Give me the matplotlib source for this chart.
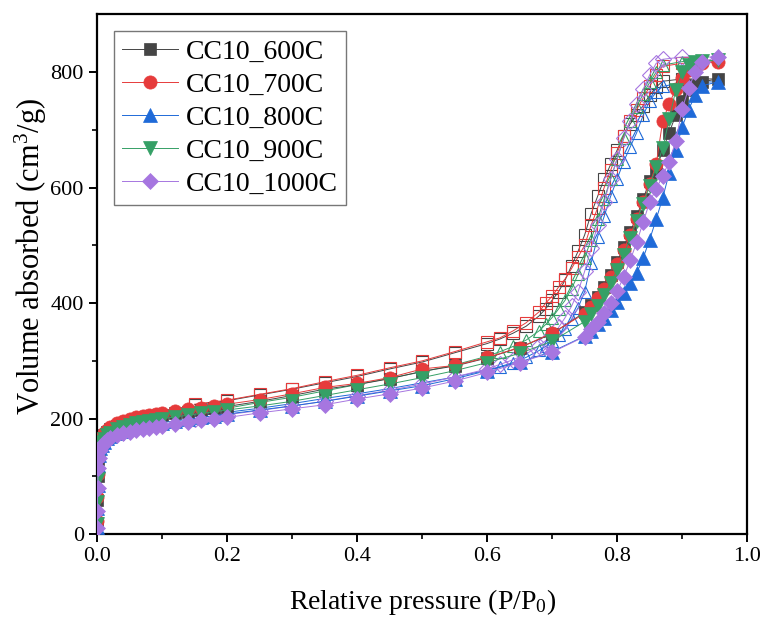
import matplotlib
matplotlib.use('Agg')
import matplotlib.pyplot as plt

plt.rcParams['font.family'] = ['Liberation Serif', 'DejaVu Serif']
plt.rcParams['mathtext.fontset'] = 'custom'
plt.rcParams['mathtext.rm'] = 'Liberation Serif'
plt.rcParams['mathtext.it'] = 'Liberation Serif:italic'

# series names / styles
labels = ['CC10_600C', 'CC10_700C', 'CC10_800C', 'CC10_900C', 'CC10_1000C']
colors = ['#454545', '#e63b3b', '#1f6ad8', '#35a066', '#a676e0']
markers = ['s', 'o', '^', 'v', 'D']
open_markers = ['s', 's', '^', '^', 'D']
ms_fill = [9, 9.5, 10, 10, 8.5]

# adsorption branch (P/P0)
ads_p = [0.0002, 0.0005, 0.001, 0.002, 0.003, 0.005, 0.007, 0.01, 0.015, 0.02,
         0.03, 0.04, 0.05, 0.06, 0.07, 0.08, 0.09, 0.10, 0.12, 0.14, 0.16, 0.18, 0.20,
         0.25, 0.30, 0.35, 0.40, 0.45, 0.50, 0.55, 0.60, 0.65, 0.70,
         0.75, 0.76, 0.77, 0.78, 0.79, 0.80, 0.81, 0.82, 0.83, 0.84,
         0.85, 0.86, 0.87, 0.88, 0.89, 0.90, 0.91, 0.92, 0.93, 0.955]

ads_600 = [20, 60, 100, 130, 145, 157, 164, 171, 177, 182,
           188, 192, 195, 198, 200, 202, 204, 206, 209, 212, 215, 218, 221,
           230, 240, 251, 259, 269, 282, 291, 305, 323, 347,
           384, 396, 410, 428, 448, 472, 497, 523, 550, 580,
           612, 630, 665, 695, 725, 750, 768, 777, 783, 788]
ads_700 = [22, 64, 105, 135, 150, 162, 169, 175, 181, 186,
           192, 196, 199, 202, 204, 206, 208, 210, 213, 216, 219, 222, 225,
           233, 243, 254, 261, 271, 286, 292, 306, 323, 348,
           382, 394, 408, 425, 445, 468, 492, 518, 545, 575,
           606, 640, 715, 745, 770, 790, 803, 810, 815, 818]
ads_800 = [12, 45, 85, 120, 137, 149, 155, 160, 166, 170,
           175, 179, 182, 185, 187, 189, 191, 193, 196, 199, 202, 205, 208,
           215, 222, 230, 239, 248, 257, 269, 283, 298, 316,
           343, 352, 363, 375, 388, 402, 418, 434, 452, 478,
           510, 545, 582, 625, 665, 705, 735, 760, 776, 783]
ads_900 = [18, 55, 95, 125, 140, 152, 159, 165, 171, 176,
           182, 186, 189, 192, 194, 196, 198, 200, 203, 206, 209, 212, 215,
           222, 230, 240, 250, 260, 271, 283, 297, 313, 334,
           368, 381, 395, 414, 435, 458, 484, 512, 542, 572,
           603, 635, 668, 718, 768, 800, 812, 817, 819, 820]
ads_1000 = [10, 40, 80, 115, 132, 145, 152, 157, 163, 167,
            172, 175, 177, 180, 182, 184, 186, 188, 191, 194, 197, 199, 202,
            210, 217, 224, 234, 243, 253, 265, 280, 297, 315,
            342, 355, 368, 383, 400, 421, 445, 474, 505, 540,
            575, 598, 620, 645, 680, 736, 772, 800, 817, 826]

# desorption branch (P/P0)
des_p = [0.90, 0.87,
         0.86, 0.85, 0.84, 0.83, 0.82, 0.81, 0.80, 0.79, 0.78, 0.77,
         0.76, 0.75, 0.74, 0.73, 0.72, 0.71, 0.70, 0.69, 0.68,
         0.66, 0.64, 0.62, 0.60,
         0.55, 0.50, 0.45, 0.40, 0.35, 0.30, 0.25, 0.20, 0.15]

des_600 = [788, 784,
           774, 760, 742, 726, 710, 690, 665, 640, 615, 585,
           555, 518, 490, 465, 440, 420, 405, 390, 378,
           360, 348, 338, 330,
           314, 298, 286, 273, 262, 251, 241, 231, 224]
des_700 = [815, 810,
           795, 775, 755, 735, 715, 690, 660, 630, 600, 565,
           535, 500, 480, 460, 442, 428, 412, 400, 385,
           366, 352, 340, 333,
           316, 300, 288, 275, 264, 252, 242, 232, 225]
des_800 = [782, 775,
           765, 750, 725, 695, 670, 645, 615, 585, 550, 515,
           470, 420, 392, 372, 356, 344, 334, 325, 318,
           306, 297, 290, 284,
           272, 262, 252, 243, 235, 226, 218, 211, 204]
des_900 = [818, 812,
           800, 782, 762, 740, 715, 685, 650, 615, 580, 545,
           510, 478, 450, 425, 405, 390, 375, 363, 352,
           336, 325, 316, 308,
           293, 281, 270, 259, 248, 237, 228, 218, 210]
des_1000 = [826, 822,
            815, 795, 770, 745, 715, 685, 650, 615, 575, 535,
            495, 455, 420, 395, 375, 358, 345, 335, 326,
            312, 302, 294, 286,
            272, 260, 249, 240, 230, 222, 214, 207, 200]

ads_all = [ads_600, ads_700, ads_800, ads_900, ads_1000]
des_all = [des_600, des_700, des_800, des_900, des_1000]

fig = plt.figure(figsize=(7.64, 6.19), dpi=100)
ax = fig.add_axes([0.127, 0.137, 0.851, 0.840])

# desorption: open markers, line starts at last adsorption point
for i in range(5):
    xs = [ads_p[-1]] + des_p
    ys = [ads_all[i][-1]] + des_all[i]
    ax.plot(xs, ys, color=colors[i], lw=0.7, marker=open_markers[i],
            ms=8.5, mfc='none', mec=colors[i], mew=0.8,
            markevery=slice(1, None), zorder=2)

# adsorption: filled markers
handles = []
for i in range(5):
    h, = ax.plot(ads_p, ads_all[i], color=colors[i], lw=0.7, marker=markers[i],
                 ms=ms_fill[i], mfc=colors[i], mec=colors[i],
                 mew=0.5, label=labels[i], zorder=3 + i)
    handles.append(h)

ax.set_xlim(0, 1.0)
ax.set_ylim(0, 900)
ax.set_xticks([0.0, 0.2, 0.4, 0.6, 0.8, 1.0])
ax.set_xticks([0.1, 0.3, 0.5, 0.7, 0.9], minor=True)
ax.set_yticks([0, 200, 400, 600, 800])
ax.set_yticks([100, 300, 500, 700], minor=True)
ax.tick_params(which='major', direction='out', length=6, width=1.4, labelsize=16,
               top=False, right=False)
ax.tick_params(which='minor', direction='out', length=3.5, width=1.2,
               top=False, right=False)
for s in ax.spines.values():
    s.set_linewidth(1.6)

ax.set_xlabel(r'Relative pressure (P/P$_\mathrm{0}$)', fontsize=20, labelpad=15)
ax.set_ylabel(r'Volume absorbed (cm$^\mathrm{3}$/g)', fontsize=22)
ax.yaxis.set_label_coords(-0.074, 0.535)

leg = ax.legend(handles=handles, loc='upper left', fontsize=20, frameon=True,
                fancybox=False, edgecolor='#555555', handlelength=2.0,
                handletextpad=0.3, labelspacing=0.27, borderpad=0.3,
                borderaxespad=0.6)
leg.get_frame().set_linewidth(1.0)

plt.savefig('out.png', dpi=100)
plt.close()
